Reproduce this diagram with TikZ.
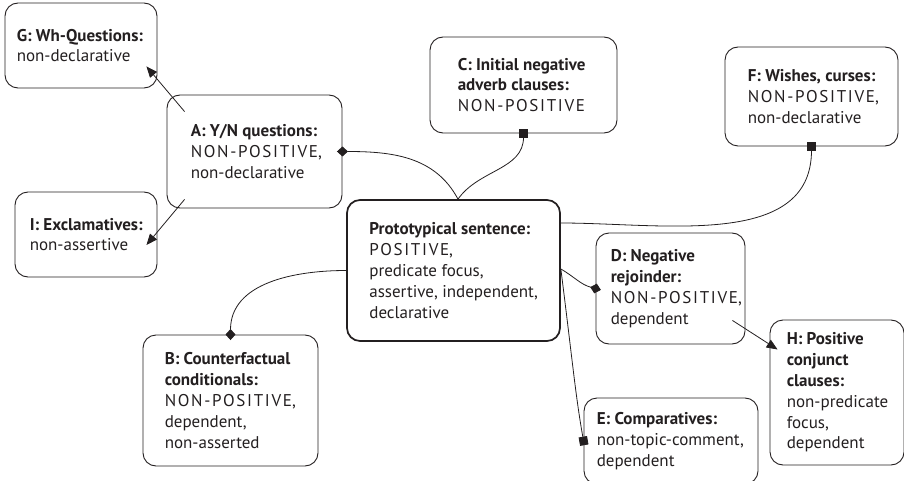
\documentclass[tikz,border=0pt]{standalone}
\usepackage{fontspec}
\setmainfont{PT Sans}
\newfontfamily\spcaps[LetterSpace=10]{PT Sans}
\usetikzlibrary{arrows.meta,calc}
\definecolor{ink}{HTML}{231F20}
\newcommand\NP{{\spcaps NON-POSITIVE}}
\begin{document}
\begin{tikzpicture}[x=1pt,y=-1pt,
  font=\fontsize{17}{20.8}\selectfont,
  box/.style={draw=ink, line width=0.9pt, rounded corners=13pt, inner sep=0pt},
  mainbox/.style={box, line width=1.7pt},
  txt/.style={inner sep=0pt, align=left, anchor=west, text=ink},
  conn/.style={draw=ink, line width=0.8pt},
  dia/.style={-{Diamond[length=11pt,width=10pt]}, shorten >=-5.5pt},
  sq/.style={-{Square[length=8.5pt,width=8.5pt]}, shorten >=-4.2pt},
  arr/.style={-{Triangle[length=11pt,width=9pt]}}]
\useasboundingbox (0,0) rectangle (904,481);
% boxes
\node[box, minimum width=152pt, minimum height=85pt] (G) at (81,45.5) {};
\node[box, minimum width=175pt, minimum height=113pt] (A) at (254.5,151.5) {};
\node[box, minimum width=142pt, minimum height=85pt] (I) at (86,234.5) {};
\node[box, minimum width=187pt, minimum height=96pt] (C) at (523.5,85) {};
\node[box, minimum width=173pt, minimum height=99pt] (F) at (811.5,96.5) {};
\node[mainbox, minimum width=213pt, minimum height=141pt] (P) at (453.5,270.5) {};
\node[box, minimum width=149pt, minimum height=111pt] (D) at (670.5,288.5) {};
\node[box, minimum width=134pt, minimum height=145pt] (H) at (837,392.5) {};
\node[box, minimum width=174pt, minimum height=86pt] (E) at (671,441) {};
\node[box, minimum width=175pt, minimum height=131pt] (B) at (230.5,400.5) {};
% texts
\node[txt] (Gt) at ($(G.west)+(12,0)$) {\textbf{G: Wh-Questions:}\\non-declarative};
\node[txt] (At) at ($(A.west)+(24,0)$) {\textbf{A: Y/N questions:}\\\NP,\\non-declarative};
\node[txt] (It) at ($(I.west)+(15,0)$) {\textbf{I: Exclamatives:}\\non-assertive};
\node[txt] (Ct) at ($(C.west)+(28,0)$) {\textbf{C: Initial negative}\\\textbf{adverb clauses:}\\\NP};
\node[txt] (Ft) at ($(F.west)+(23,0)$) {\textbf{F: Wishes, curses:}\\\NP,\\non-declarative};
\node[txt] (Pt) at ($(P.west)+(23,0)$) {\textbf{Prototypical sentence:}\\{\spcaps POSITIVE},\\predicate focus,\\assertive, independent,\\declarative};
\node[txt] (Dt) at ($(D.west)+(15,0)$) {\textbf{D: Negative}\\\textbf{rejoinder:}\\\NP,\\dependent};
\node[txt] (Ht) at ($(H.west)+(17,0)$) {\textbf{H: Positive}\\\textbf{conjunct}\\\textbf{clauses:}\\non-predicate\\focus,\\dependent};
\node[txt] (Et) at ($(E.west)+(13,0)$) {\textbf{E: Comparatives:}\\non-topic-comment,\\dependent};
\node[txt] (Bt) at ($(B.west)+(22,0)$) {\textbf{B: Counterfactual}\\\textbf{conditionals:}\\\NP,\\dependent,\\non-asserted};
% junction points
\coordinate (Ptop) at ($(P.north)+(4.5,0)$);
\coordinate (Pr1) at ($(P.east)+(0,-47.5)$);
\coordinate (Pr2) at ($(P.east)+(0,-1.5)$);
% connectors
\draw[conn, arr] ($(A.north west)+(18,17)$) -- ($(G.south east)+(-11,-22)$);
\draw[conn, arr] ($(A.south west)+(18,-9)$) -- ($(I.east)+(-11,10.5)$);
\draw[conn, dia] (Ptop) to[out=118, in=0] (A.east);
\draw[conn, sq] (Ptop) to[out=55, in=-90] (C.south);
\draw[conn, sq] (Pr1) to[out=0, in=-90] (F.south);
\draw[conn, dia] (P.west) to[out=180, in=90] (B.north);
\draw[conn, dia] (Pr2) to[out=-30, in=165] (D.west);
\draw[conn, sq] (Pr2) .. controls +(12,95) and +(-8,-45) .. (E.west);
\draw[conn, arr] ($(D.south east)+(-13,-24)$) -- ($(H.west)+(8,-43)$);
\end{tikzpicture}
\end{document}
